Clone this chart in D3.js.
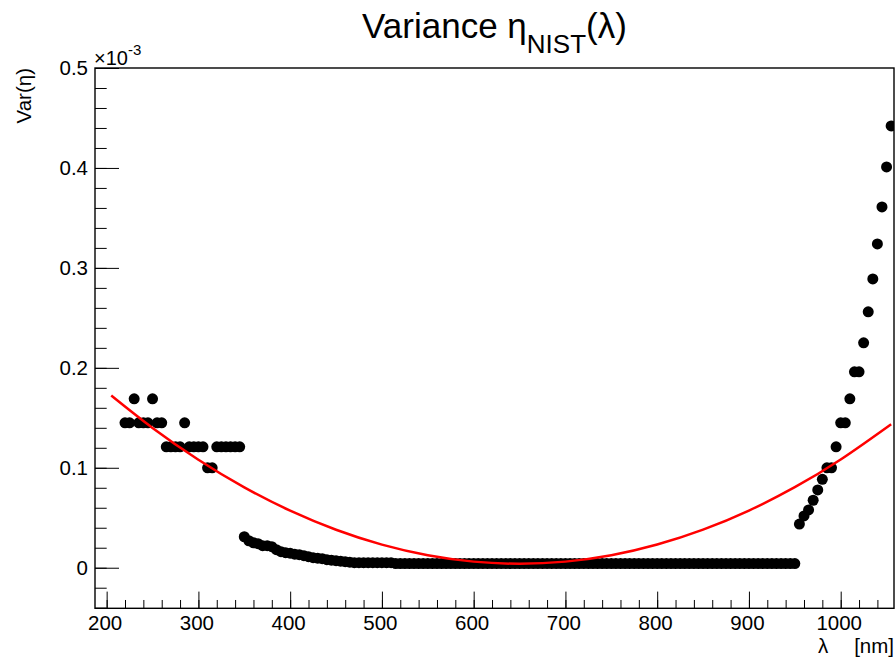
<!DOCTYPE html>
<html>
<head>
<meta charset="utf-8">
<script src="https://cdn.jsdelivr.net/npm/d3@7"></script>
<style>
  html, body { margin: 0; padding: 0; background: #fff; }
  svg { display: block; font-family: "Liberation Sans", Arial, Helvetica, sans-serif; }
</style>
</head>
<body>
<svg id="chart" width="896" height="662"></svg>
<script>
// ---------------- DATA (Var(eta) in units of 1e-3) ----------------
const wavelengths = [
  220,225,230,235,240,245,250,255,260,265,270,275,280,285,290,295,300,305,310,315,320,325,330,335,340,345,
  350,355,360,365,370,375,380,385,390,395,400,405,410,415,420,425,430,435,440,445,450,455,460,465,
  470,475,480,485,490,495,500,505,510,
  515,520,525,530,535,540,545,550,555,560,565,
  570,575,580,585,590,595,600,605,610,615,620,
  625,630,635,640,645,650,655,660,665,670,675,
  680,685,690,695,700,705,710,715,720,725,730,
  735,740,745,750,755,760,765,770,775,780,785,
  790,795,800,805,810,815,820,825,830,835,840,
  845,850,855,860,865,870,875,880,885,890,895,
  900,905,910,915,920,925,930,935,940,945,950,
  955,960,965,970,975,980,985,990,995,1000,1005,1010,1015,1020,1025,1030,1035,1040,1045,1050,1055
];
const variance = [
  0.145,0.145,0.169,0.145,0.145,0.145,0.169,0.145,0.145,0.121,0.121,0.121,0.121,0.145,0.121,0.121,0.121,0.121,0.100,0.100,0.121,0.121,0.121,0.121,0.121,0.121,
  0.031,0.027,0.025,0.024,0.022,0.022,0.021,0.018,0.016,0.015,0.0145,0.0135,0.013,0.012,0.011,0.010,0.0095,0.009,0.008,0.0075,0.007,0.0065,0.006,0.0055,
  0.005,0.005,0.005,0.005,0.005,0.005,0.005,0.005,0.005,
  0.0042,0.0042,0.0042,0.0042,0.0042,0.0042,0.0042,0.0042,0.0042,0.0042,0.0042,
  0.0042,0.0042,0.0042,0.0042,0.0042,0.0042,0.0042,0.0042,0.0042,0.0042,0.0042,
  0.0042,0.0042,0.0042,0.0042,0.0042,0.0042,0.0042,0.0042,0.0042,0.0042,0.0042,
  0.0042,0.0042,0.0042,0.0042,0.0042,0.0042,0.0042,0.0042,0.0042,0.0042,0.0042,
  0.0042,0.0042,0.0042,0.0042,0.0042,0.0042,0.0042,0.0042,0.0042,0.0042,0.0042,
  0.0042,0.0042,0.0042,0.0042,0.0042,0.0042,0.0042,0.0042,0.0042,0.0042,0.0042,
  0.0042,0.0042,0.0042,0.0042,0.0042,0.0042,0.0042,0.0042,0.0042,0.0042,0.0042,
  0.0042,0.0042,0.0042,0.0042,0.0042,0.0042,0.0042,0.0042,0.0042,0.0042,0.0042,
  0.0437,0.0518,0.0578,0.0675,0.0778,0.0885,0.100,0.100,0.121,0.145,0.145,0.169,0.196,0.196,0.225,0.256,0.289,0.324,0.361,0.401,0.442
];
// quadratic fit (red curve)
const fitLambda = [205,250,300,350,400,450,500,550,600,650,700,750,800,850,900,950,1000,1055];
const fitValue  = [0.1723,0.1399,0.1081,0.0804,0.0571,0.0380,0.0231,0.0125,0.0061,0.0040,0.0061,0.0125,0.0232,0.0381,0.0572,0.0806,0.1083,0.1436];

const xMajorTicks = [200,300,400,500,600,700,800,900,1000];
const xMinorTicks = [200,220,240,260,280,300,320,340,360,380,400,420,440,460,480,500,520,540,560,580,600,620,640,660,680,700,720,740,760,780,800,820,840,860,880,900,920,940,960,980,1000,1020,1040];
const yMajorTicks = [0,0.1,0.2,0.3,0.4,0.5];
const yMinorTicks = [-0.04,-0.02,0,0.02,0.04,0.06,0.08,0.1,0.12,0.14,0.16,0.18,0.2,0.22,0.24,0.26,0.28,0.3,0.32,0.34,0.36,0.38,0.4,0.42,0.44,0.46,0.48,0.5];
const yTickLabels = ["0","0.1","0.2","0.3","0.4","0.5"];

// ---------------- LAYOUT ----------------
const L = 95, R = 894, T = 68, B = 608.3;
const svg = d3.select("#chart");

const x = d3.scaleLinear().domain([187.3, 1058.1]).range([L, R]);
const y = d3.scaleLinear().domain([-0.0406, 0.5]).range([B, T]);

svg.append("defs").append("clipPath").attr("id", "clip")
  .append("rect").attr("x", L).attr("y", T).attr("width", R - L).attr("height", B - T);

// x minor ticks
svg.append("g").attr("transform", `translate(0,${B})`)
  .call(d3.axisBottom(x).tickValues(xMinorTicks).tickSizeInner(-8.3).tickSizeOuter(0).tickFormat(""))
  .call(g => g.select(".domain").remove())
  .call(g => g.selectAll("line").attr("stroke", "#000").attr("stroke-width", 1));
// x major ticks
svg.append("g").attr("transform", `translate(-2,${B})`)
  .call(d3.axisBottom(x).tickValues(xMajorTicks).tickSizeInner(-16.7).tickSizeOuter(0).tickPadding(7).tickFormat(d3.format("d")))
  .call(g => g.select(".domain").remove())
  .call(g => g.selectAll("line").attr("transform", "translate(2,0)").attr("stroke", "#000").attr("stroke-width", 1))
  .call(g => g.selectAll("text").attr("font-size", 20.5).attr("fill", "#000").attr("font-family", "Liberation Sans, Arial, sans-serif"));

// y minor ticks
svg.append("g").attr("transform", `translate(${L},0)`)
  .call(d3.axisLeft(y).tickValues(yMinorTicks).tickSizeInner(-11.7).tickSizeOuter(0).tickFormat(""))
  .call(g => g.select(".domain").remove())
  .call(g => g.selectAll("line").attr("stroke", "#000").attr("stroke-width", 1));
// y major ticks
svg.append("g").attr("transform", `translate(${L},0)`)
  .call(d3.axisLeft(y).tickValues(yMajorTicks).tickSizeInner(-24).tickSizeOuter(0).tickPadding(7)
        .tickFormat((d, i) => yTickLabels[i]))
  .call(g => g.select(".domain").remove())
  .call(g => g.selectAll("line").attr("stroke", "#000").attr("stroke-width", 1))
  .call(g => g.selectAll("text").attr("font-size", 20.5).attr("fill", "#000").attr("font-family", "Liberation Sans, Arial, sans-serif"));

// frame
svg.append("rect").attr("x", L).attr("y", T).attr("width", R - L).attr("height", B - T)
  .attr("fill", "none").attr("stroke", "#000").attr("stroke-width", 1.4);

// data points
const pts = wavelengths.map((w, i) => ({ w, v: variance[i] }));
svg.append("g").attr("clip-path", "url(#clip)")
  .selectAll("circle").data(pts).enter().append("circle")
  .attr("cx", d => x(d.w)).attr("cy", d => y(d.v)).attr("r", 5.5).attr("fill", "#000");

// fit curve
const fitPts = fitLambda.map((w, i) => [w, fitValue[i]]);
svg.append("path").datum(fitPts)
  .attr("clip-path", "url(#clip)")
  .attr("d", d3.line().x(d => x(d[0])).y(d => y(d[1])).curve(d3.curveNatural))
  .attr("fill", "none").attr("stroke", "#ff0000").attr("stroke-width", 2.5);

// exponent label
const ex = svg.append("text").attr("x", L - 1).attr("y", 65).attr("font-size", 20).attr("fill", "#000");
ex.append("tspan").text("\u00d710");
ex.append("tspan").attr("font-size", 15).attr("dy", -10).text("-3");

// y axis title
svg.append("text").attr("transform", `translate(31,${T}) rotate(-90)`)
  .attr("text-anchor", "end").attr("font-size", 20.5).attr("fill", "#000").text("Var(\u03b7)");

// x axis title
svg.append("text").attr("x", 818).attr("y", 653).attr("font-size", 20.5).attr("fill", "#000").text("\u03bb");
svg.append("text").attr("x", R).attr("y", 653).attr("text-anchor", "end").attr("font-size", 20.5).attr("fill", "#000").text("[nm]");

// title
const title = svg.append("text").attr("x", 494.5).attr("y", 38).attr("text-anchor", "middle")
  .attr("font-size", 35).attr("fill", "#000");
title.append("tspan").text("Variance \u03b7");
title.append("tspan").attr("font-size", 26).attr("dy", 15).text("NIST");
title.append("tspan").attr("dy", -15).text("(\u03bb)");
</script>
</body>
</html>
